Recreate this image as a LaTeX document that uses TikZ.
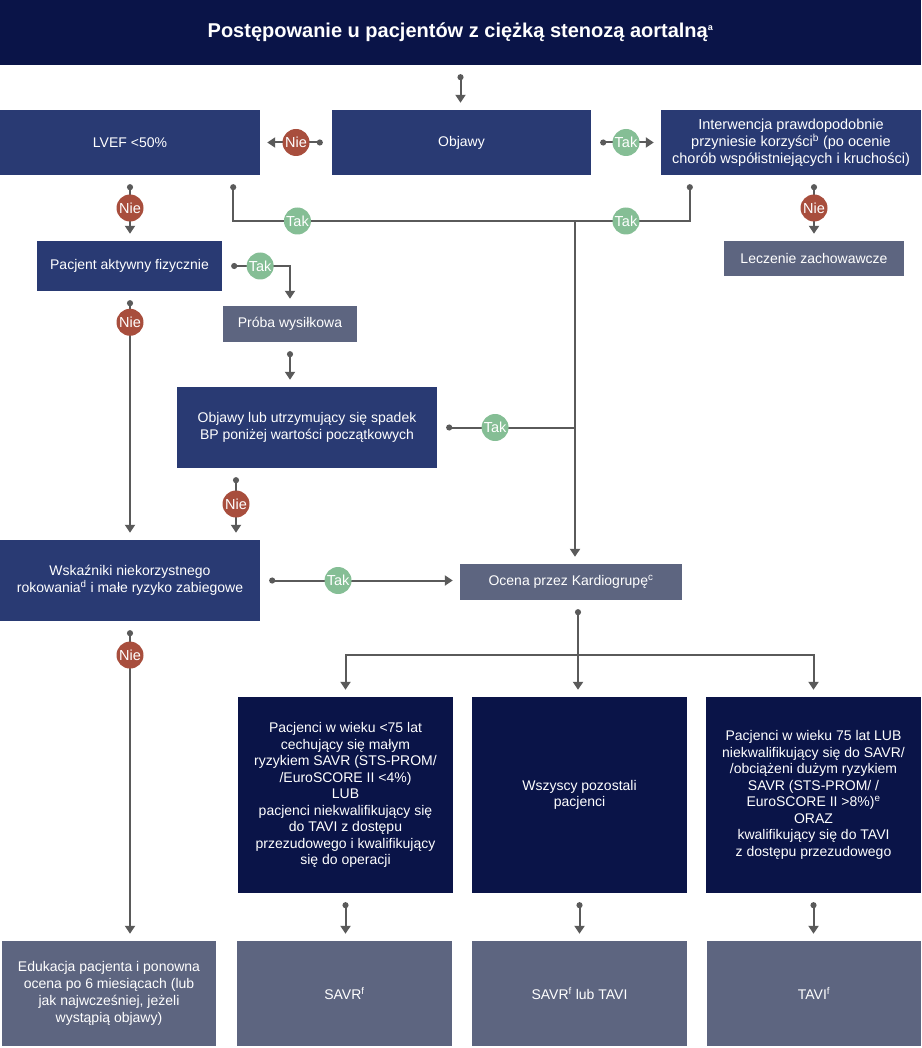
\documentclass[tikz,border=0pt]{standalone}
\usepackage{fontspec}
\setmainfont{Liberation Sans}
\usetikzlibrary{arrows.meta}

\definecolor{navy}{HTML}{0A1448}
\definecolor{boxblue}{HTML}{293A73}
\definecolor{boxgrey}{HTML}{5D6580}
\definecolor{niered}{HTML}{A84E3D}
\definecolor{takgreen}{HTML}{85BE95}
\definecolor{linegrey}{HTML}{5A5A5A}

\begin{document}
\begin{tikzpicture}[x=1pt,y=-1pt,
box/.style={fill=boxblue,text=white,font=\fontsize{14}{17}\selectfont,align=center,inner sep=0},
grey/.style={box,fill=boxgrey},
dark/.style={box,fill=navy,font=\fontsize{14}{16.5}\selectfont},
head/.style={fill=navy,text=white,font=\fontsize{20}{23}\selectfont\bfseries,inner sep=0},
link/.style={draw=linegrey,line width=2pt},
arr/.style={link,{Circle[length=6pt]}-{Triangle[length=8pt,width=10pt]},shorten <=9pt,shorten >=7pt},
tip/.style={link,-{Triangle[length=8pt,width=10pt]},shorten >=7pt},
dd/.style={link,{Circle[length=6pt]}-{Circle[length=6pt]},shorten <=9pt,shorten >=9pt},
ds/.style={link,{Circle[length=6pt]}-,shorten <=9pt},
nie/.style={circle,fill=niered,text=white,minimum size=27pt,inner sep=0,font=\fontsize{14.5}{14.5}\selectfont},
tak/.style={nie,fill=takgreen}]
	\useasboundingbox (0,0) rectangle (921,1048);
	\node[head,minimum width=921pt,minimum height=65pt] (title) at (460.5,32.5) {Postępowanie u pacjentów z ciężką stenozą aortalną\textsuperscript{\fontsize{9}{9}\selectfont a}};

	\node[box,minimum width=259pt,minimum height=65pt] (objawy) at (461.5,142.5) {Objawy};
	\node[box,minimum width=260pt,minimum height=65pt] (lvef) at (130,142.5) {LVEF <50\%};
	\node[box,minimum width=260pt,minimum height=65pt,font=\fontsize{14.5}{17}\selectfont] (interw) at (791,142.5) {Interwencja prawdopodobnie\\przyniesie korzyści\textsuperscript{b} (po ocenie\\chorób współistniejących i kruchości)};
	\node[grey,minimum width=180pt,minimum height=35pt] (leczenie) at (814,258.5) {Leczenie zachowawcze};
	\node[box,minimum width=185pt,minimum height=50pt] (aktywny) at (129.5,266) {Pacjent aktywny fizycznie};
	\node[grey,minimum width=134pt,minimum height=36pt] (proba) at (290,324) {Próba wysiłkowa};
	\node[box,minimum width=260pt,minimum height=81pt] (objbp) at (307,427.5) {Objawy lub utrzymujący się spadek\\BP poniżej wartości początkowych};
	\node[box,minimum width=260pt,minimum height=81pt] (wskazn) at (130,580.5) {Wskaźniki niekorzystnego\\rokowania\textsuperscript{d} i małe ryzyko zabiegowe};
	\node[grey,minimum width=222pt,minimum height=36pt] (ocena) at (571,582) {Ocena przez Kardiogrupę\textsuperscript{c}};

	\node[dark,minimum width=215pt,minimum height=196pt] (pac1) at (345.5,795) {Pacjenci w wieku <75 lat\\cechujący się małym\\ryzykiem SAVR (STS-PROM/\\/EuroSCORE II <4\%)\\LUB\\pacjenci niekwalifikujący się\\do TAVI z dostępu\\przezudowego i kwalifikujący\\się do operacji};
	\node[dark,minimum width=215pt,minimum height=196pt] (pac2) at (579.5,795) {Wszyscy pozostali\\pacjenci};
	\node[dark,minimum width=215pt,minimum height=196pt] (pac3) at (813.5,795) {Pacjenci w wieku 75 lat LUB\\niekwalifikujący się do SAVR/\\/obciążeni dużym ryzykiem\\SAVR (STS-PROM/ /\\EuroSCORE II >8\%)\textsuperscript{e}\\ORAZ\\kwalifikujący się do TAVI\\z dostępu przezudowego};

	\node[grey,minimum width=214pt,minimum height=105pt] (eduk) at (109,993.5) {Edukacja pacjenta i ponowna\\ocena po 6 miesiącach (lub\\jak najwcześniej, jeżeli\\wystąpią objawy)};
	\node[grey,minimum width=215pt,minimum height=105pt] (savr) at (344.5,993.5) {SAVR\textsuperscript{f}};
	\node[grey,minimum width=215pt,minimum height=105pt] (savrtavi) at (579.5,993.5) {SAVR\textsuperscript{f} lub TAVI};
	\node[grey,minimum width=214pt,minimum height=105pt] (tavi) at (814,993.5) {TAVI\textsuperscript{f}};

	\coordinate (junc) at (575,221);
	\coordinate (bus) at (578,655);

	% top row
	\draw[arr] (title.south) -- (title.south |- objawy.north);
	\draw[arr] (objawy.west) -- node[nie] (nie1) {Nie} (lvef.east);
	\draw[arr] (objawy.east) -- node[tak] (tak1) {Tak} (interw.west);
	\draw[arr] (lvef.south) -- node[nie] (nie2) {Nie} (lvef.south |- aktywny.north);
	\draw[arr] (leczenie.north |- interw.south) -- node[nie] (nie3) {Nie} (leczenie.north);
	\draw[dd] ([xshift=-27pt]lvef.south east) |- node[tak,pos=0.594] (tak2) {Tak} (junc) -| node[tak,pos=0.222] (tak3) {Tak} ([xshift=29pt]interw.south west);
	\draw[tip] (junc) -- (junc |- ocena.north);

	% left branch
	\draw[arr] (aktywny.east) -| node[tak,pos=0.28] (tak4) {Tak} (proba.north);
	\draw[arr] (proba.south) -- (proba.south |- objbp.north);
	\draw[ds] (objbp.east) -- node[tak,pos=0.42] (tak5) {Tak} (objbp.east -| junc);
	\draw[arr] ([xshift=-71pt]objbp.south) -- node[nie] (nie4) {Nie} ([xshift=-71pt]objbp.south |- wskazn.north);
	\draw[arr] (aktywny.south -| lvef.south) -- node[nie,pos=0.125] (nie5) {Nie} (lvef.south |- wskazn.north);
	\draw[arr] (wskazn.east) -- node[tak,pos=0.39] (tak6) {Tak} (wskazn.east -| ocena.west);
	\draw[arr] (wskazn.south) -- node[nie,pos=0.106] (nie6) {Nie} (wskazn.south |- eduk.north);

	% heart team
	\draw[ds] ([xshift=7pt]ocena.south) -- (bus);
	\draw[tip] (bus) -| (pac1.north);
	\draw[tip] (bus) -- (bus |- pac2.north);
	\draw[tip] (bus) -| (pac3.north);
	\foreach \a/\b in {pac1/savr,pac2/savrtavi,pac3/tavi}
		\draw[arr] (\a.south) -- (\a.south |- \b.north);
\end{tikzpicture}
\end{document}
